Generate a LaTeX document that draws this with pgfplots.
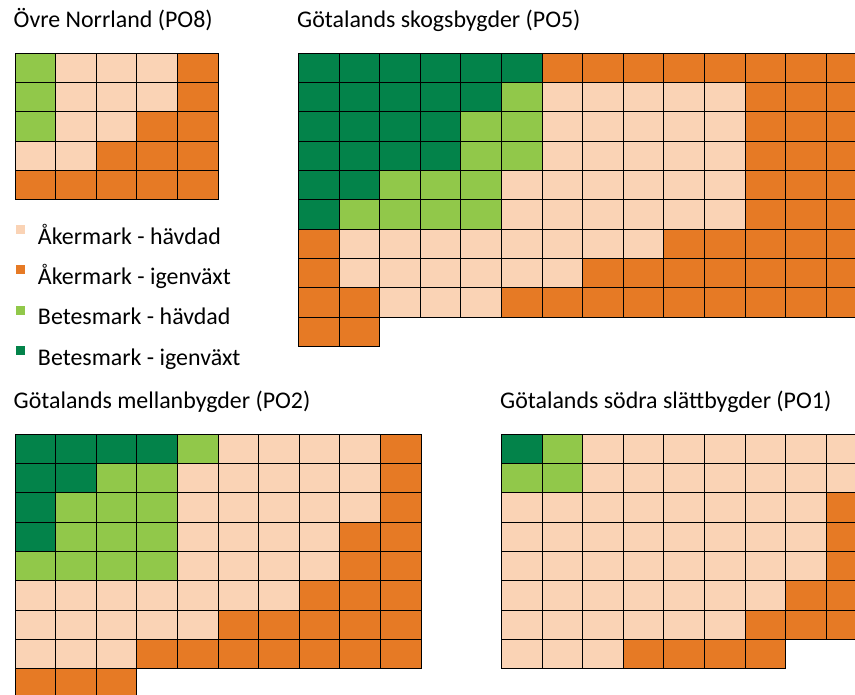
\documentclass[border=0pt]{standalone}
\usepackage{fontspec}
\setmainfont{Carlito}
\usepackage{pgfplots}
\pgfplotsset{compat=1.18}

\definecolor{peach}{HTML}{FAD3B5}
\definecolor{orng}{HTML}{E67A25}
\definecolor{lgreen}{HTML}{91C84A}
\definecolor{dgreen}{HTML}{03834A}

\pgfdeclareplotmark{cell}{%
  \pgfpathrectangle{\pgfpoint{-20.3bp}{-14.675bp}}{\pgfpoint{40.6bp}{29.35bp}}%
  \pgfusepathqfillstroke}

\pgfplotsset{
  waffle/.style={hide axis, scale only axis, x=40.6bp, y=29.35bp, y dir=reverse,
    xmin=0, ymin=0, clip=true, anchor=north west,
    title style={font=\fontsize{24}{29}\selectfont, at={(0,1)}, anchor=base west,
      yshift=20bp, xshift=-1.5bp, inner sep=0pt}},
  cells/.style={scatter, only marks, line width=0.9bp, point meta=explicit symbolic, forget plot,
    scatter/classes={
      P={mark=cell, draw=black, fill=peach},
      O={mark=cell, draw=black, fill=orng},
      L={mark=cell, draw=black, fill=lgreen},
      G={mark=cell, draw=black, fill=dgreen}}},
  sqlegend/.style={legend image code/.code={\path[draw=none,fill=none] (0bp,0bp) -- (22bp,0bp);\fill[##1, draw=none] (0bp,-6.6bp) rectangle (9bp,2.4bp);}},
}

\begin{document}
\begin{tikzpicture}
\useasboundingbox (0,0) rectangle (855bp,-695bp);

% Övre Norrland (PO8)
\begin{axis}[waffle, at={(15bp,-53bp)}, xmax=5, ymax=5,
  title={Övre Norrland (PO8)},
  legend cell align=left,
  legend style={at={(axis description cs:0,0)}, anchor=north west, draw=none, fill=none,
    inner sep=0pt, outer sep=0pt, xshift=1bp, yshift=-25bp,
    font=\fontsize{24}{29}\selectfont, row sep=15bp,
    nodes={inner sep=0pt, text height=17bp, text depth=6bp}}]
\addplot[cells] coordinates {
(0.5,0.5)[L] (1.5,0.5)[P] (2.5,0.5)[P] (3.5,0.5)[P] (4.5,0.5)[O]
(0.5,1.5)[L] (1.5,1.5)[P] (2.5,1.5)[P] (3.5,1.5)[P] (4.5,1.5)[O]
(0.5,2.5)[L] (1.5,2.5)[P] (2.5,2.5)[P] (3.5,2.5)[O] (4.5,2.5)[O]
(0.5,3.5)[P] (1.5,3.5)[P] (2.5,3.5)[O] (3.5,3.5)[O] (4.5,3.5)[O]
(0.5,4.5)[O] (1.5,4.5)[O] (2.5,4.5)[O] (3.5,4.5)[O] (4.5,4.5)[O]
};
\addlegendimage{sqlegend, fill=peach}
\addlegendimage{sqlegend, fill=orng}
\addlegendimage{sqlegend, fill=lgreen}
\addlegendimage{sqlegend, fill=dgreen}
\legend{Åkermark - hävdad, Åkermark - igenväxt, Betesmark - hävdad, Betesmark - igenväxt}
\end{axis}

% Götalands skogsbygder (PO5)
\begin{axis}[waffle, at={(298.5bp,-53bp)}, xmax=13.707, ymax=10,
  title={Götalands skogsbygder (PO5)}]
\addplot[cells] coordinates {
(0.5,0.5)[G] (1.5,0.5)[G] (2.5,0.5)[G] (3.5,0.5)[G] (4.5,0.5)[G] (5.5,0.5)[G] (6.5,0.5)[O] (7.5,0.5)[O] (8.5,0.5)[O] (9.5,0.5)[O] (10.5,0.5)[O] (11.5,0.5)[O] (12.5,0.5)[O] (13.5,0.5)[O]
(0.5,1.5)[G] (1.5,1.5)[G] (2.5,1.5)[G] (3.5,1.5)[G] (4.5,1.5)[G] (5.5,1.5)[L] (6.5,1.5)[P] (7.5,1.5)[P] (8.5,1.5)[P] (9.5,1.5)[P] (10.5,1.5)[P] (11.5,1.5)[O] (12.5,1.5)[O] (13.5,1.5)[O]
(0.5,2.5)[G] (1.5,2.5)[G] (2.5,2.5)[G] (3.5,2.5)[G] (4.5,2.5)[L] (5.5,2.5)[L] (6.5,2.5)[P] (7.5,2.5)[P] (8.5,2.5)[P] (9.5,2.5)[P] (10.5,2.5)[P] (11.5,2.5)[O] (12.5,2.5)[O] (13.5,2.5)[O]
(0.5,3.5)[G] (1.5,3.5)[G] (2.5,3.5)[G] (3.5,3.5)[G] (4.5,3.5)[L] (5.5,3.5)[L] (6.5,3.5)[P] (7.5,3.5)[P] (8.5,3.5)[P] (9.5,3.5)[P] (10.5,3.5)[P] (11.5,3.5)[O] (12.5,3.5)[O] (13.5,3.5)[O]
(0.5,4.5)[G] (1.5,4.5)[G] (2.5,4.5)[L] (3.5,4.5)[L] (4.5,4.5)[L] (5.5,4.5)[P] (6.5,4.5)[P] (7.5,4.5)[P] (8.5,4.5)[P] (9.5,4.5)[P] (10.5,4.5)[P] (11.5,4.5)[O] (12.5,4.5)[O] (13.5,4.5)[O]
(0.5,5.5)[G] (1.5,5.5)[L] (2.5,5.5)[L] (3.5,5.5)[L] (4.5,5.5)[L] (5.5,5.5)[P] (6.5,5.5)[P] (7.5,5.5)[P] (8.5,5.5)[P] (9.5,5.5)[P] (10.5,5.5)[P] (11.5,5.5)[O] (12.5,5.5)[O] (13.5,5.5)[O]
(0.5,6.5)[O] (1.5,6.5)[P] (2.5,6.5)[P] (3.5,6.5)[P] (4.5,6.5)[P] (5.5,6.5)[P] (6.5,6.5)[P] (7.5,6.5)[P] (8.5,6.5)[P] (9.5,6.5)[O] (10.5,6.5)[O] (11.5,6.5)[O] (12.5,6.5)[O] (13.5,6.5)[O]
(0.5,7.5)[O] (1.5,7.5)[P] (2.5,7.5)[P] (3.5,7.5)[P] (4.5,7.5)[P] (5.5,7.5)[P] (6.5,7.5)[P] (7.5,7.5)[O] (8.5,7.5)[O] (9.5,7.5)[O] (10.5,7.5)[O] (11.5,7.5)[O] (12.5,7.5)[O] (13.5,7.5)[O]
(0.5,8.5)[O] (1.5,8.5)[O] (2.5,8.5)[P] (3.5,8.5)[P] (4.5,8.5)[P] (5.5,8.5)[O] (6.5,8.5)[O] (7.5,8.5)[O] (8.5,8.5)[O] (9.5,8.5)[O] (10.5,8.5)[O] (11.5,8.5)[O] (12.5,8.5)[O] (13.5,8.5)[O]
(0.5,9.5)[O] (1.5,9.5)[O]
};
\end{axis}

% Götalands mellanbygder (PO2)
\begin{axis}[waffle, at={(15bp,-434bp)}, xmax=10, ymax=8.893,
  title={Götalands mellanbygder (PO2)}]
\addplot[cells] coordinates {
(0.5,0.5)[G] (1.5,0.5)[G] (2.5,0.5)[G] (3.5,0.5)[G] (4.5,0.5)[L] (5.5,0.5)[P] (6.5,0.5)[P] (7.5,0.5)[P] (8.5,0.5)[P] (9.5,0.5)[O]
(0.5,1.5)[G] (1.5,1.5)[G] (2.5,1.5)[L] (3.5,1.5)[L] (4.5,1.5)[P] (5.5,1.5)[P] (6.5,1.5)[P] (7.5,1.5)[P] (8.5,1.5)[P] (9.5,1.5)[O]
(0.5,2.5)[G] (1.5,2.5)[L] (2.5,2.5)[L] (3.5,2.5)[L] (4.5,2.5)[P] (5.5,2.5)[P] (6.5,2.5)[P] (7.5,2.5)[P] (8.5,2.5)[P] (9.5,2.5)[O]
(0.5,3.5)[G] (1.5,3.5)[L] (2.5,3.5)[L] (3.5,3.5)[L] (4.5,3.5)[P] (5.5,3.5)[P] (6.5,3.5)[P] (7.5,3.5)[P] (8.5,3.5)[O] (9.5,3.5)[O]
(0.5,4.5)[L] (1.5,4.5)[L] (2.5,4.5)[L] (3.5,4.5)[L] (4.5,4.5)[P] (5.5,4.5)[P] (6.5,4.5)[P] (7.5,4.5)[P] (8.5,4.5)[O] (9.5,4.5)[O]
(0.5,5.5)[P] (1.5,5.5)[P] (2.5,5.5)[P] (3.5,5.5)[P] (4.5,5.5)[P] (5.5,5.5)[P] (6.5,5.5)[P] (7.5,5.5)[O] (8.5,5.5)[O] (9.5,5.5)[O]
(0.5,6.5)[P] (1.5,6.5)[P] (2.5,6.5)[P] (3.5,6.5)[P] (4.5,6.5)[P] (5.5,6.5)[O] (6.5,6.5)[O] (7.5,6.5)[O] (8.5,6.5)[O] (9.5,6.5)[O]
(0.5,7.5)[P] (1.5,7.5)[P] (2.5,7.5)[P] (3.5,7.5)[O] (4.5,7.5)[O] (5.5,7.5)[O] (6.5,7.5)[O] (7.5,7.5)[O] (8.5,7.5)[O] (9.5,7.5)[O]
(0.5,8.5)[O] (1.5,8.5)[O] (2.5,8.5)[O]
};
\end{axis}

% Götalands södra slättbygder (PO1)
\begin{axis}[waffle, at={(501.5bp,-434bp)}, xmax=8.707, ymax=8,
  title={Götalands södra slättbygder (PO1)}]
\addplot[cells] coordinates {
(0.5,0.5)[G] (1.5,0.5)[L] (2.5,0.5)[P] (3.5,0.5)[P] (4.5,0.5)[P] (5.5,0.5)[P] (6.5,0.5)[P] (7.5,0.5)[P] (8.5,0.5)[P]
(0.5,1.5)[L] (1.5,1.5)[L] (2.5,1.5)[P] (3.5,1.5)[P] (4.5,1.5)[P] (5.5,1.5)[P] (6.5,1.5)[P] (7.5,1.5)[P] (8.5,1.5)[P]
(0.5,2.5)[P] (1.5,2.5)[P] (2.5,2.5)[P] (3.5,2.5)[P] (4.5,2.5)[P] (5.5,2.5)[P] (6.5,2.5)[P] (7.5,2.5)[P] (8.5,2.5)[O]
(0.5,3.5)[P] (1.5,3.5)[P] (2.5,3.5)[P] (3.5,3.5)[P] (4.5,3.5)[P] (5.5,3.5)[P] (6.5,3.5)[P] (7.5,3.5)[P] (8.5,3.5)[O]
(0.5,4.5)[P] (1.5,4.5)[P] (2.5,4.5)[P] (3.5,4.5)[P] (4.5,4.5)[P] (5.5,4.5)[P] (6.5,4.5)[P] (7.5,4.5)[P] (8.5,4.5)[O]
(0.5,5.5)[P] (1.5,5.5)[P] (2.5,5.5)[P] (3.5,5.5)[P] (4.5,5.5)[P] (5.5,5.5)[P] (6.5,5.5)[P] (7.5,5.5)[O] (8.5,5.5)[O]
(0.5,6.5)[P] (1.5,6.5)[P] (2.5,6.5)[P] (3.5,6.5)[P] (4.5,6.5)[P] (5.5,6.5)[P] (6.5,6.5)[O] (7.5,6.5)[O] (8.5,6.5)[O]
(0.5,7.5)[P] (1.5,7.5)[P] (2.5,7.5)[P] (3.5,7.5)[O] (4.5,7.5)[O] (5.5,7.5)[O] (6.5,7.5)[O]
};
\end{axis}
\end{tikzpicture}
\end{document}
